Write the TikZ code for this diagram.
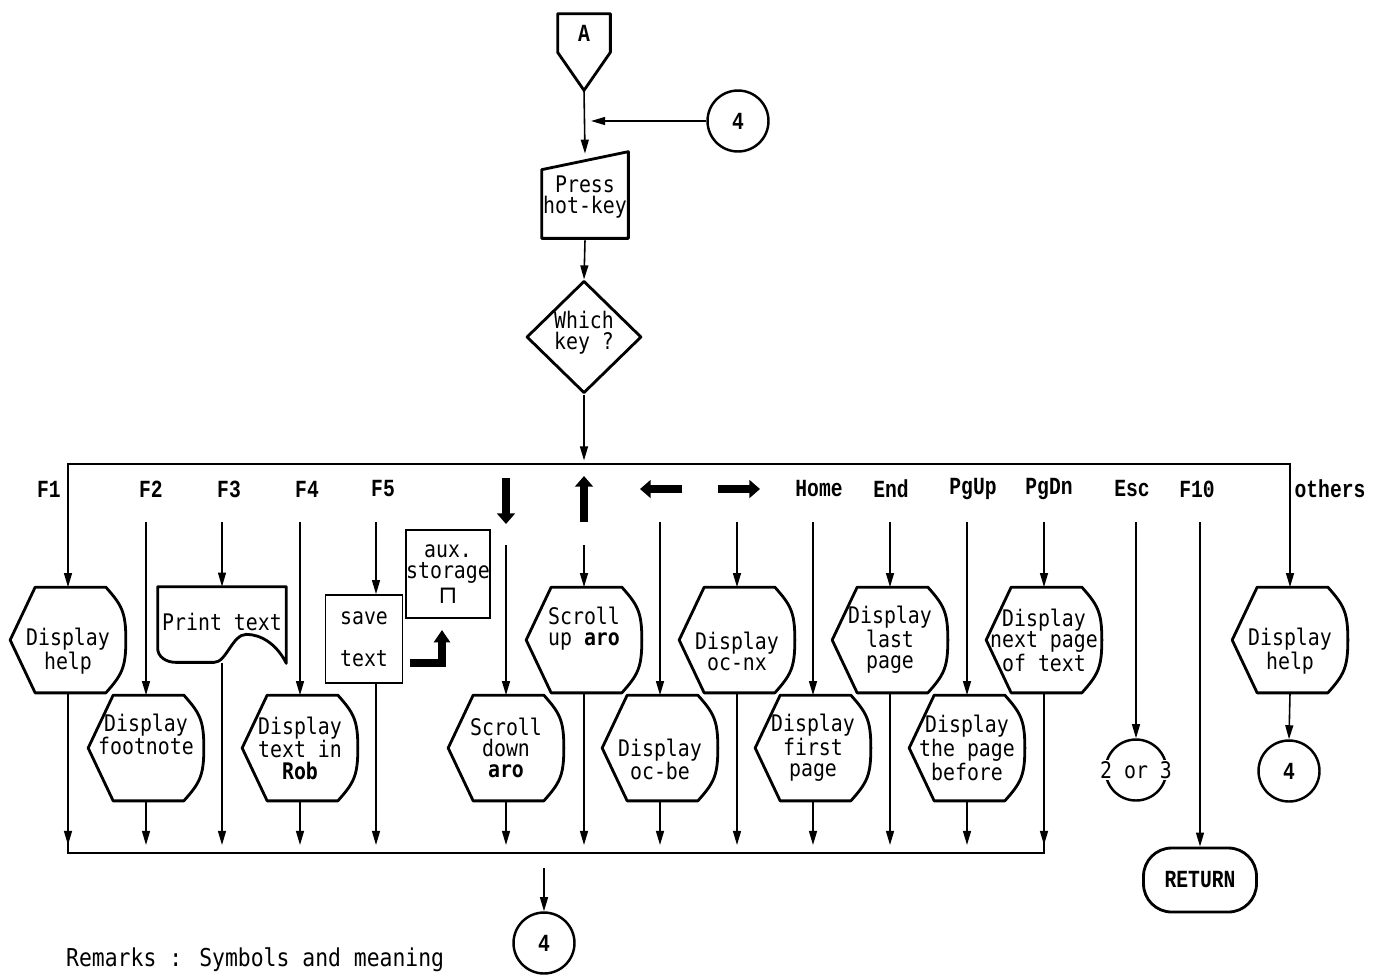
\documentclass[tikz,border=0pt]{standalone}
\usepackage{fontspec}
\setmainfont{DejaVu Sans Mono}[FakeStretch=0.87]
\newfontfamily\keyfont{Liberation Mono}[FakeStretch=0.8]
\newfontfamily\symfont{DejaVu Sans}
\newcommand{\bodysize}{\fontsize{13}{12}\selectfont}
\newcommand{\keysize}{\fontsize{14}{14}\selectfont}
\usetikzlibrary{arrows.meta,shapes.geometric,calc}

\tikzset{
  conn/.style={line width=0.9pt},
  arr/.style={conn,-{Triangle[length=8pt,width=4.5pt]}},
  outline/.style={line width=1.6pt,line join=round},
  disp/.style={minimum width=2.3cm,minimum height=2.1cm,inner sep=0pt,align=center},
  circ/.style={circle,draw,line width=1.4pt,minimum size=1.22cm,inner sep=0pt,font=\keyfont\keysize\bfseries},
  keylbl/.style={font=\keyfont\keysize\bfseries},
  keyarr/.style={line width=4.5pt,-{Triangle[length=6pt,width=10pt]}},
  fat/.style={line width=5pt,-{Triangle[length=7pt,width=9pt]}}
}

% outline of a display symbol round a (borderless) node
\newcommand{\dispframe}[1]{%
  \draw[outline] ($(#1.north west)+(25,0)$) -- ($(#1.north east)+(-20,0)$)
    .. controls ($(#1.north east)+(-4,18)$) and ($(#1.east)+(0,-28)$) .. (#1.east)
    .. controls ($(#1.east)+(0,28)$) and ($(#1.south east)+(-4,-18)$) .. ($(#1.south east)+(-20,0)$)
    -- ($(#1.south west)+(25,0)$) -- (#1.west) -- cycle;}

\begin{document}
\begin{tikzpicture}[x=0.02cm,y=-0.02cm,font=\bodysize]
  \useasboundingbox (0,0) rectangle (1386,975);

  % start: off-page connector, hot-key, decision
  \node[minimum width=1.04cm,minimum height=0.76cm,inner sep=0pt,font=\keyfont\keysize\bfseries] (A) at (584,33) {A};
  \coordinate (Atip) at ($(A.south)+(0,38)$);
  \draw[outline] (A.south west) -- (A.north west) -- (A.north east) -- (A.south east) -- (Atip) -- cycle;
  \node[circ] (c4a) at (738,121) {4};
  \node[minimum width=1.72cm,minimum height=1.72cm,inner sep=0pt,align=center] (press) at (585,197) {Press\\hot-key};
  \draw[outline] ($(press.south west)+(0,-2)$) -- ($(press.north west)+(0,16)$) -- ($(press.north east)+(0,-2)$) -- ($(press.south east)+(0,-2)$) -- cycle;
  \node[diamond,draw,outline,minimum width=2.3cm,minimum height=2.12cm,inner sep=0pt,align=center] (key) at (584,337) {Which\\key ?\\[-4pt]};
  \coordinate (bustop) at (584,464);

  \draw[arr] (Atip) -- (press.north);
  \draw[arr,shorten >=4pt] (c4a) -- (c4a -| Atip);
  \draw[arr] (press.south) -- (key.north);
  \draw[arr,shorten >=2pt] (key.south) -- (bustop);

  % key labels
  \foreach \x/\t in {49/F1,151/F2,229/F3,307/F4,383/F5,819/Home,891/End,973/PgUp,1049/PgDn,1132/Esc,1197/F10,1330/others}
    \node[keylbl] (l-\t) at (\x,489) {\t};
  \draw[keyarr] (506,478) -- (506,524);
  \draw[keyarr] (584,522) -- (584,476);
  \draw[keyarr] (682,489) -- (640,489);
  \draw[keyarr] (718,489) -- (760,489);

  % actions
  \node[disp] (help1) at (68,640) {\strut\\Display\\help};
  \node[disp] (foot) at (146,748) {Display\\footnote\\\strut};
  \node[minimum width=2.56cm,minimum height=1.52cm,inner sep=0pt] (print) at (222,625) {\raisebox{4pt}{Print text}};
  \draw[outline] (print.north west) -- (print.north east) -- (print.south east)
    .. controls +(-10,-20) and +(14,0) .. ($(print.south east)+(-40,-29)$)
    .. controls +(-14,0) and +(12,0) .. ($(print.south east)+(-72,-1)$)
    -- ($(print.south west)+(18,-1)$)
    .. controls +(-10,0) and +(0,8) .. ($(print.south west)+(0,-15)$) -- cycle;
  \node[disp] (rob) at (300,748) {Display\\text in\\\textbf{Rob}};
  \node[draw,line width=1pt,minimum width=1.54cm,minimum height=1.76cm,inner sep=0pt,align=center] (save) at (364,639) {save\\[12pt]text};
  \node[draw,line width=1pt,minimum width=1.32cm,minimum height=1.76cm,inner sep=0pt,align=center] (aux) at (448,574) {aux.\\storage\\[2pt]{\symfont\fontsize{14}{14}\selectfont ⊓}};
  \coordinate (fatstart) at ($(save.east)+(7,24)$);
  \coordinate (fatend) at (442,630);
  \draw[fat] (fatstart) -| (fatend);
  \node[disp] (sdown) at (506,748) {Scroll\\down\\\textbf{aro}};
  \node[disp] (sup) at (584,640) {Scroll\\up \textbf{aro}\\\strut};
  \node[disp] (ocbe) at (660,748) {\strut\\Display\\oc-be};
  \node[disp] (ocnx) at (737,640) {\strut\\Display\\oc-nx};
  \node[disp] (first) at (813,748) {Display\\first\\page};
  \node[disp] (last) at (890,640) {Display\\last\\page};
  \node[disp] (before) at (967,748) {Display\\the page\\before};
  \node[disp] (next) at (1044,640) {Display\\next page\\of text};
  \node[disp] (help2) at (1290,640) {\strut\\Display\\help};
  \foreach \n in {help1,foot,rob,sdown,sup,ocbe,ocnx,first,last,before,next,help2}
    \dispframe{\n};

  \node[circ,label={[fill=white,inner sep=1pt,font=\bodysize]center:2 or 3}] (esc) at (1136,770) {};
  \node[draw,outline,rounded corners=16pt,minimum width=2.26cm,minimum height=1.28cm,font=\keyfont\keysize\bfseries] (ret) at (1200,880) {RETURN};
  \node[circ] (c4c) at (1289,771) {4};
  \node[circ] (c4b) at (544,943) {4};

  % branches
  \coordinate (kmid) at (0,545);
  \coordinate (kbot) at (0,845);
  \coordinate (bbus) at (544,853);
  \coordinate (c4in) at (544,868);
  \foreach \x/\n in {68/help1,146/foot,222/print,300/rob,376/save,506/sdown,584/sup,660/ocbe,737/ocnx,813/first,890/last,967/before,1044/next,1136/esc,1200/ret}
    \coordinate (k-\n) at (\x,522);

  \draw[arr] (bustop) -| (help1.north);
  \draw[arr] (bustop) -| (help2.north);
  \foreach \n in {foot,print,rob,save,ocbe,ocnx,first,last,before,next,esc,ret}
    \draw[arr] (k-\n) -- (k-\n |- \n.north);
  \foreach \n in {sdown,sup}
    \draw[arr] (k-\n |- kmid) -- (k-\n |- \n.north);
  \draw[arr] (help2.south) -- (c4c.north);

  % back to 4
  \draw[conn] (help1.south) |- (bbus) -| (next.south);
  \foreach \n in {help1,foot,print,rob,save,sdown,sup,ocbe,ocnx,first,last,before,next}
    \draw[arr] (k-\n |- \n.south) -- (k-\n |- kbot);
  \draw[arr] (c4in) -- (c4b.north);

  \node[anchor=west,font=\fontsize{14}{16}\selectfont] (remarks) at (60,960) {Remarks : Symbols and meaning};
\end{tikzpicture}
\end{document}
